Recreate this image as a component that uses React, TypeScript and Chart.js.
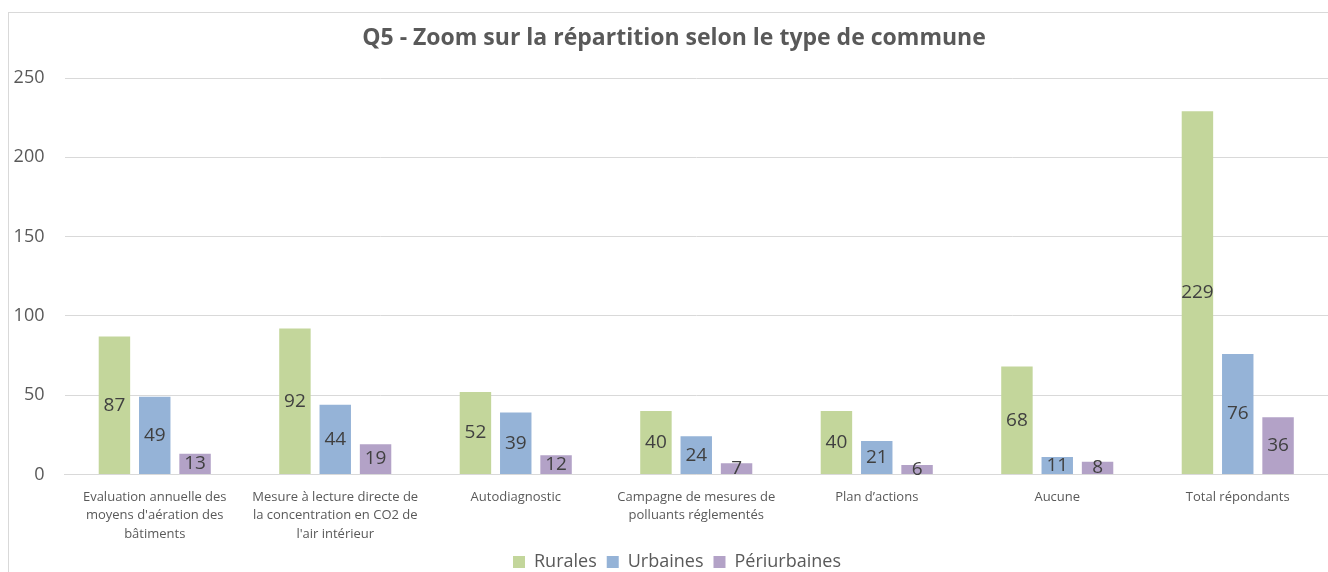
import React, { useEffect, useRef } from "react";
import { Chart, registerables } from "chart.js";

Chart.register(...registerables);

const categories: (string | string[])[] = [
  ["Evaluation annuelle des", "moyens d'aération des", "bâtiments"],
  ["Mesure à lecture directe de", "la concentration en CO2 de", "l'air intérieur"],
  "Autodiagnostic",
  ["Campagne de mesures de", "polluants réglementés"],
  "Plan d’actions",
  "Aucune",
  "Total répondants",
];
const rurales = [87, 92, 52, 40, 40, 68, 229];
const urbaines = [49, 44, 39, 24, 21, 11, 76];
const periurbaines = [13, 19, 12, 7, 6, 8, 36];
const yTicks = [0, 50, 100, 150, 200, 250];

const FONT = "'Open Sans', sans-serif";

const valueLabels = {
  id: "valueLabels",
  afterDatasetsDraw(chart: any) {
    const ctx = chart.ctx;
    ctx.save();
    ctx.font = `19px ${FONT}`;
    ctx.fillStyle = "#404040";
    ctx.textAlign = "center";
    ctx.textBaseline = "middle";
    chart.data.datasets.forEach((ds: any, i: number) => {
      const meta = chart.getDatasetMeta(i);
      meta.data.forEach((bar: any, j: number) => {
        const y = (bar.y + bar.base) / 2;
        ctx.fillText(String(ds.data[j]), bar.x, y);
      });
    });
    ctx.restore();
  },
};

// The original chart frame extends past the right edge, so title and legend sit slightly right of centre
const shiftBoxes = {
  id: "shiftBoxes",
  afterLayout(chart: any) {
    if (chart.titleBlock) {
      chart.titleBlock.left += 10;
      chart.titleBlock.right += 10;
    }
    if (chart.legend) {
      chart.legend.left += 13;
      chart.legend.right += 13;
    }
  },
};

export default function App() {
  const ref = useRef<HTMLCanvasElement>(null);
  useEffect(() => {
    const chart = new Chart(ref.current!, {
      type: "bar",
      data: {
        labels: categories,
        datasets: [
          { label: "Rurales", data: rurales, backgroundColor: "#C3D69B" },
          { label: "Urbaines", data: urbaines, backgroundColor: "#95B3D7" },
          { label: "Périurbaines", data: periurbaines, backgroundColor: "#B3A2C7" },
        ],
      },
      options: {
        animation: false,
        responsive: true,
        maintainAspectRatio: false,
        layout: { padding: { top: 16, right: 0, bottom: -9, left: 0 } },
        datasets: { bar: { barPercentage: 0.78, categoryPercentage: 0.67 } } as any,
        plugins: {
          title: {
            display: true,
            text: "Q5 - Zoom sur la répartition selon le type de commune",
            color: "#595959",
            font: { family: FONT, size: 23, weight: "bold" },
            padding: { top: 9, bottom: 25.4 },
          },
          legend: {
            position: "bottom",
            labels: {
              color: "#595959",
              font: { family: FONT, size: 18 },
              boxWidth: 12,
              boxHeight: 12,
              padding: 10,
            },
          },
          tooltip: { enabled: false },
        },
        scales: {
          x: {
            afterFit: (s: any) => {
              s.height = s.height - 14;
            },
            grid: { display: false, drawTicks: false },
            border: { display: true, color: "#D9D9D9" },
            ticks: {
              color: "#595959",
              font: { family: FONT, size: 13, lineHeight: 1.4 },
              padding: 14,
              maxRotation: 0,
              autoSkip: false,
            },
          },
          y: {
            min: 0,
            max: 250,
            afterFit: (s: any) => {
              s.width = 64.5;
            },
            afterBuildTicks: (s: any) => {
              s.ticks = yTicks.map((v) => ({ value: v }));
            },
            grid: { color: "#D9D9D9", drawTicks: false },
            border: { display: false },
            ticks: {
              color: "#595959",
              font: { family: FONT, size: 18 },
              padding: 20,
            },
          },
        },
      },
      plugins: [valueLabels, shiftBoxes],
    });
    return () => chart.destroy();
  }, []);

  return (
    <div style={{ position: "fixed", left: 0, top: 0, width: 1328, height: 572, overflow: "hidden", background: "#fff" }}>
      <div
        style={{
          position: "absolute",
          left: 8,
          top: 12,
          width: 1400,
          height: 700,
          border: "1px solid #D9D9D9",
        }}
      />
      <div style={{ position: "absolute", left: 0, top: 0, width: 1328, height: 572 }}>
        <canvas ref={ref} />
      </div>
    </div>
  );
}
